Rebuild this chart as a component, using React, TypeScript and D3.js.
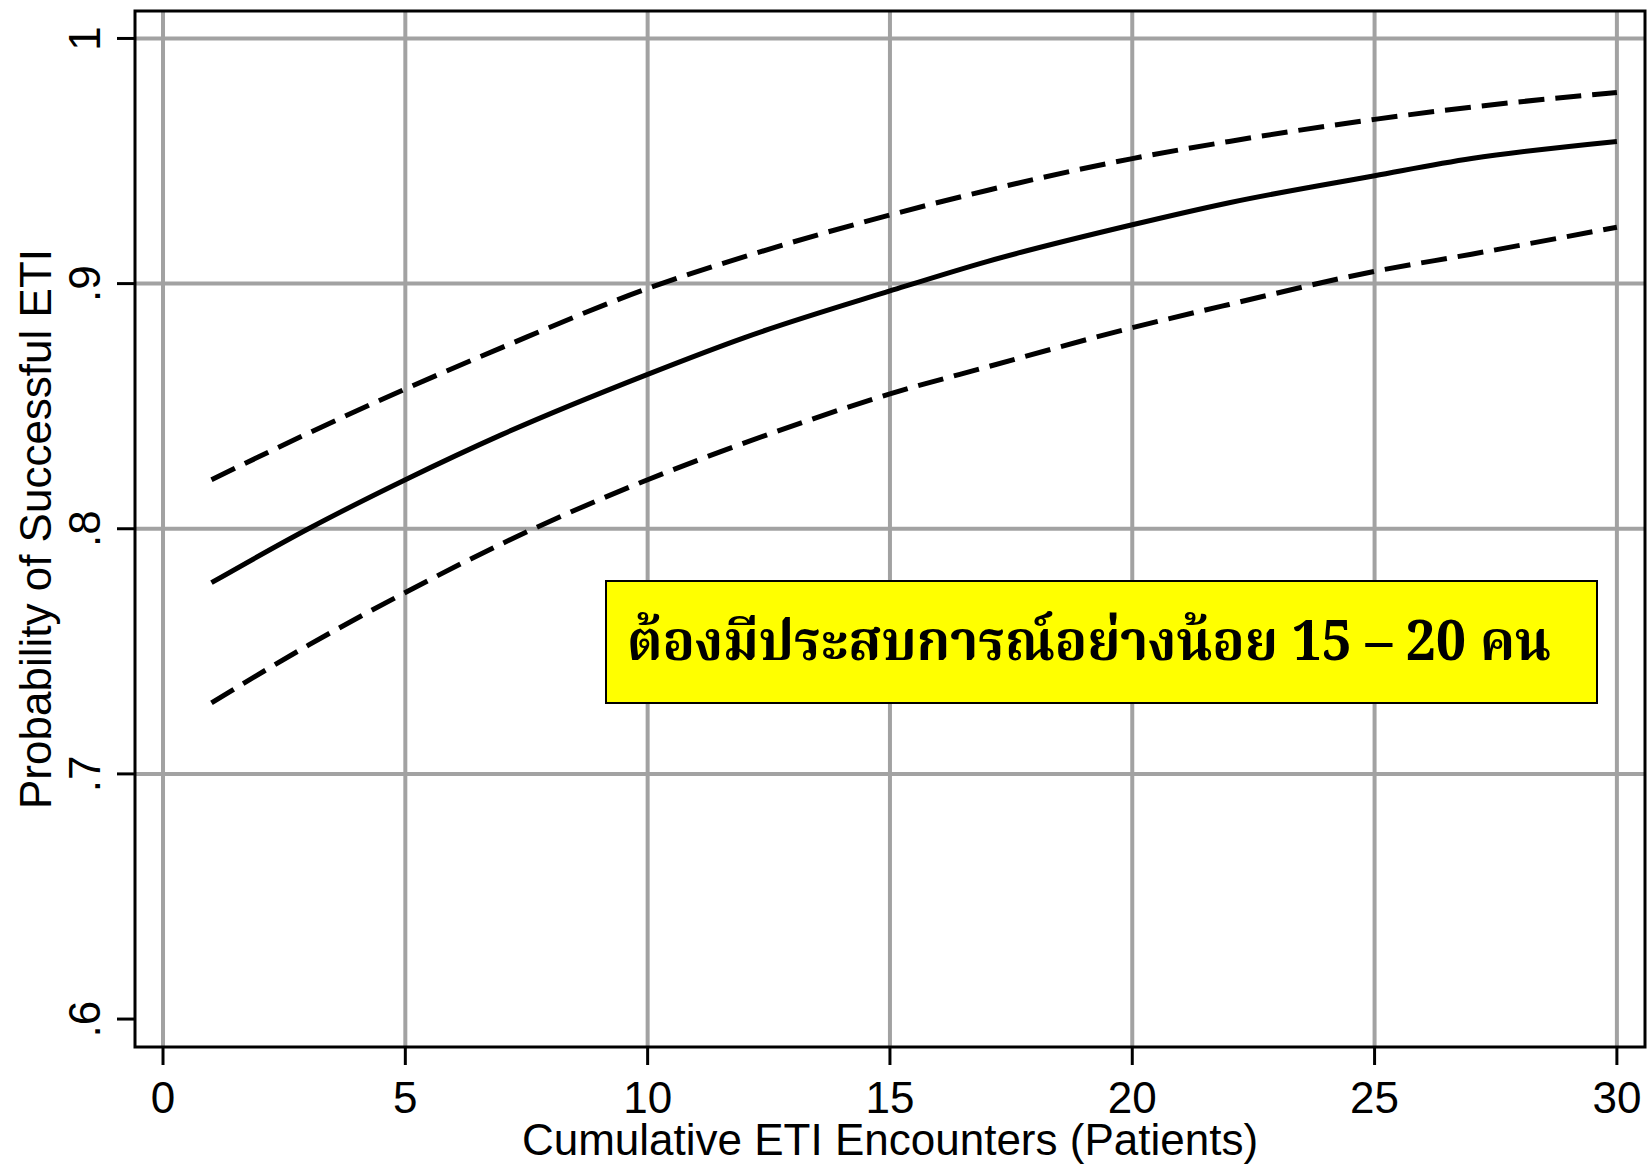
import React from "react";
import * as d3 from "d3";

const xTicks = [0, 5, 10, 15, 20, 25, 30];
const yTicks = [0.6, 0.7, 0.8, 0.9, 1.0];
const yTickLabels = [".6", ".7", ".8", ".9", "1"];
const yGrid = [0.7, 0.8, 0.9, 1.0];

const encounters = [1, 3, 5, 7, 10, 12, 15, 17, 20, 22, 25, 27, 30];
const predicted = [0.778, 0.8, 0.82, 0.8385, 0.863, 0.878, 0.897, 0.909, 0.924, 0.933, 0.944, 0.951, 0.958];
const upperCI = [0.82, 0.839, 0.857, 0.874, 0.898, 0.911, 0.928, 0.938, 0.951, 0.958, 0.967, 0.972, 0.978];
const lowerCI = [0.729, 0.7525, 0.774, 0.794, 0.82, 0.835, 0.855, 0.866, 0.882, 0.8915, 0.905, 0.912, 0.923];

const xTitle = "Cumulative ETI Encounters (Patients)";
const yTitle = "Probability of Successful ETI";
const note = "ต้องมีประสบการณ์อย่างน้อย 15 – 20 คน";

const W = 1650;
const H = 1169;
const frame = { left: 135, top: 11, right: 1645, bottom: 1047 };

export default function App() {
  const x = d3.scaleLinear().domain([-0.578, 30.58]).range([frame.left, frame.right]);
  const y = d3.scaleLinear().domain([0.5886, 1.0112]).range([frame.bottom, frame.top]);

  const line = d3
    .line<number>()
    .x((_, i) => x(encounters[i]))
    .y((d) => y(d))
    .curve(d3.curveMonotoneX);

  const gridColor = "#a2a2a2";
  const font = "'Liberation Sans', Arial, Helvetica, sans-serif";
  const boxX = 606, boxY = 581, boxW = 991, boxH = 122;

  return (
    <svg
      width={W}
      height={H}
      viewBox={`0 0 ${W} ${H}`}
      style={{ position: "absolute", left: 0, top: 0, background: "#fff" }}
    >
      <rect x={0} y={0} width={W} height={H} fill="#fff" />
      {/* grid */}
      {xTicks.map((t) => (
        <line key={"gx" + t} x1={x(t)} x2={x(t)} y1={frame.top} y2={frame.bottom} stroke={gridColor} strokeWidth={4} />
      ))}
      {yGrid.map((t) => (
        <line key={"gy" + t} x1={frame.left} x2={frame.right} y1={y(t)} y2={y(t)} stroke={gridColor} strokeWidth={4} />
      ))}

      {/* curves */}
      <path d={line(upperCI) || ""} fill="none" stroke="#000" strokeWidth={5} strokeDasharray="26 11" />
      <path d={line(predicted) || ""} fill="none" stroke="#000" strokeWidth={5} />
      <path d={line(lowerCI) || ""} fill="none" stroke="#000" strokeWidth={5} strokeDasharray="26 11" />

      {/* frame */}
      <rect
        x={frame.left}
        y={frame.top}
        width={frame.right - frame.left}
        height={frame.bottom - frame.top}
        fill="none"
        stroke="#000"
        strokeWidth={3}
      />

      {/* x axis ticks */}
      {xTicks.map((t) => (
        <g key={"xt" + t}>
          <line x1={x(t)} x2={x(t)} y1={frame.bottom} y2={frame.bottom + 18} stroke="#000" strokeWidth={3} />
          <text x={x(t)} y={1113} textAnchor="middle" fontFamily={font} fontSize={44} fill="#000">
            {t}
          </text>
        </g>
      ))}
      {/* y axis ticks */}
      {yTicks.map((t, i) => (
        <g key={"yt" + t}>
          <line x1={frame.left - 18} x2={frame.left} y1={y(t)} y2={y(t)} stroke="#000" strokeWidth={3} />
          <text
            transform={`translate(100,${y(t)}) rotate(-90)`}
            textAnchor="middle"
            fontFamily={font}
            fontSize={44}
            fill="#000"
          >
            {yTickLabels[i]}
          </text>
        </g>
      ))}

      {/* titles */}
      <text x={(frame.left + frame.right) / 2} y={1155} textAnchor="middle" fontFamily={font} fontSize={44} fill="#000">
        {xTitle}
      </text>
      <text
        transform={`translate(51,${(frame.top + frame.bottom) / 2}) rotate(-90)`}
        textAnchor="middle"
        fontFamily={font}
        fontSize={44}
        fill="#000"
      >
        {yTitle}
      </text>

      {/* annotation box */}
      <rect x={boxX} y={boxY} width={boxW} height={boxH} fill="#ffff00" stroke="#000" strokeWidth={2} />
      <text
        x={627}
        y={660}
        fontFamily="'Angsana New', 'TH Sarabun New', 'Noto Serif Thai', 'Noto Sans Thai', Garuda, Norasi, Loma, serif"
        fontWeight="bold"
        fontSize={56}
        textLength={924}
        lengthAdjust="spacingAndGlyphs"
        fill="#000"
      >
        {note}
      </text>
    </svg>
  );
}
